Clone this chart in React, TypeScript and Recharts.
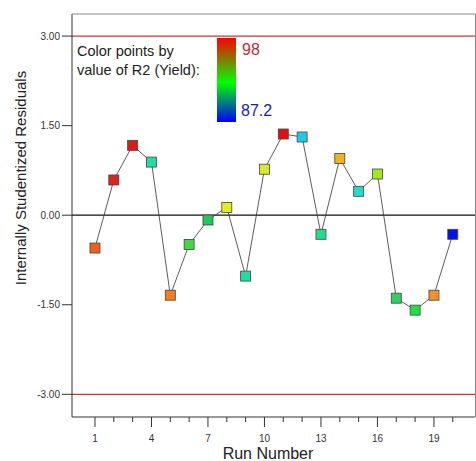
import { Line, LineChart, ReferenceLine, XAxis, YAxis } from 'recharts'

const runs = [1, 2, 3, 4, 5, 6, 7, 8, 9, 10, 11, 12, 13, 14, 15, 16, 17, 18, 19, 20]
const residuals = [
  -0.55, 0.59, 1.17, 0.89, -1.34, -0.49, -0.08, 0.13, -1.02, 0.77,
  1.36, 1.31, -0.32, 0.95, 0.4, 0.69, -1.39, -1.59, -1.34, -0.32,
]
const pointColors = [
  '#f06018', '#e02222', '#dd1a1a', '#22dca0', '#f08020', '#44d840', '#22c85a', '#e4ec20', '#22dca4', '#d8ec28',
  '#e01010', '#22c8e8', '#22dc8c', '#f0b020', '#22dcc8', '#a0e820', '#30d060', '#20e040', '#f09030', '#0010f0',
]
const yTicks = [-3, -1.5, 0, 1.5, 3]
const xTicks = [1, 2, 3, 4, 5, 6, 7, 8, 9, 10, 11, 12, 13, 14, 15, 16, 17, 18, 19, 20]
const majorX = [1, 4, 7, 10, 13, 16, 19]
const limitUpper = 3
const limitLower = -3
const colorMax = '98'
const colorMin = '87.2'

const data = runs.map((run, i) => ({ run, value: residuals[i], color: pointColors[i] }))

function SquareDot(props: any) {
  const { cx, cy, payload } = props
  if (cx == null || cy == null) return null
  return <rect x={cx - 5} y={cy - 5} width={10} height={10} fill={payload.color} stroke="#444" strokeWidth={0.8} />
}

function RunTick(props: any) {
  const { x, y, payload } = props
  const major = majorX.includes(payload.value)
  return (
    <g>
      <line x1={x} x2={x} y1={y} y2={y + (major ? 10 : 5)} stroke="#333" strokeWidth={1} />
      {major && (
        <text x={x} y={y + 25} textAnchor="middle" fontSize={10} fill="#333">
          {payload.value}
        </text>
      )}
    </g>
  )
}

export default function App() {
  return (
    <div style={{ position: 'absolute', left: 0, top: 0, width: 476, height: 461, fontFamily: 'Arial, "Liberation Sans", sans-serif', background: '#fff' }}>
      <LineChart width={476} height={461} data={data} margin={{ top: 14, right: 1, bottom: 0, left: 12 }}>
        <XAxis
          dataKey="run"
          type="number"
          domain={[-0.22, 21.18]}
          ticks={xTicks}
          tick={<RunTick />}
          tickLine={false}
          tickSize={0}
          tickMargin={0}
          axisLine={{ stroke: '#333' }}
          height={44}
          interval={0}
        />
        <YAxis
          type="number"
          domain={[-3.38, 3.37]}
          ticks={yTicks}
          tickFormatter={(v: number) => v.toFixed(2)}
          width={60}
          tickSize={10}
          tickMargin={2}
          tick={{ fontSize: 10, fill: '#333' }}
          tickLine={{ stroke: '#333' }}
          axisLine={{ stroke: '#333' }}
          allowDataOverflow
        />
        <ReferenceLine y={limitUpper} stroke="#c83a3a" strokeWidth={1.2} />
        <ReferenceLine y={limitLower} stroke="#c83a3a" strokeWidth={1.2} />
        <ReferenceLine y={0} stroke="#111" strokeWidth={1.2} />
        <Line
          type="linear"
          dataKey="value"
          stroke="#333"
          strokeWidth={0.8}
          dot={<SquareDot />}
          activeDot={false}
          isAnimationActive={false}
        />
      </LineChart>
      <svg width={476} height={461} style={{ position: 'absolute', left: 0, top: 0, pointerEvents: 'none' }}>
        <defs>
          <linearGradient id="rgb" x1="0" y1="0" x2="0" y2="1">
            <stop offset="0" stopColor="#ff0000" />
            <stop offset="0.53" stopColor="#00ff00" />
            <stop offset="1" stopColor="#0000ff" />
          </linearGradient>
        </defs>
        <line x1={72} x2={475.5} y1={14} y2={14} stroke="#888" />
        <line x1={475.5} x2={475.5} y1={14} y2={417} stroke="#888" />
        <rect x={217} y={38} width={19} height={84} fill="url(#rgb)" />
        <text x={242} y={55} fontSize={16} fill="#c02838">{colorMax}</text>
        <text x={241} y={116} fontSize={16} fill="#2020b0">{colorMin}</text>
        <text x={77} y={56} fontSize={14.5} fill="#222">Color points by</text>
        <text x={77} y={75} fontSize={14.5} fill="#222">value of R2 (Yield):</text>
        <text x={26} y={178} fontSize={15} fill="#222" textAnchor="middle" transform="rotate(-90 26 178)">
          Internally Studentized Residuals
        </text>
        <text x={268} y={459} fontSize={16} fill="#222" textAnchor="middle">Run Number</text>
      </svg>
    </div>
  )
}
